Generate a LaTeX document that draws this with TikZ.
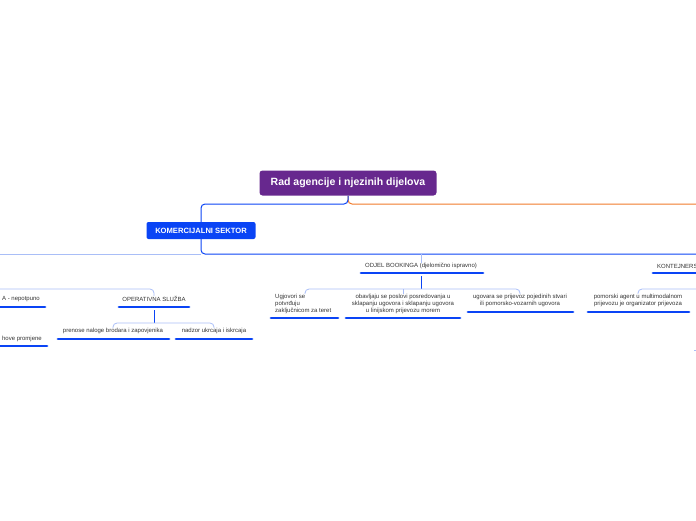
\documentclass[tikz,border=0pt]{standalone}
\usepackage{fontspec}
\setmainfont{Liberation Sans}
\usetikzlibrary{positioning}
\definecolor{agblue}{HTML}{0A44F5}
\definecolor{agpurple}{HTML}{67288E}
\definecolor{aglight}{HTML}{A9BEF7}
\definecolor{agorange}{HTML}{F07A2A}
\tikzset{
  rootbox/.style={fill=agpurple, rounded corners=3pt, text=white, font=\bfseries\fontsize{10.5}{12}\selectfont, minimum width=177pt, minimum height=25pt, inner sep=0pt},
  sectorbox/.style={fill=agblue, rounded corners=2pt, text=white, font=\bfseries\fontsize{7.6}{9}\selectfont, minimum width=109pt, minimum height=17pt, inner sep=0pt},
  leaf/.style={font=\fontsize{6}{7.2}\selectfont, text=black!80, inner sep=0pt, align=center},
  uline/.style={agblue, line width=2.8pt, line cap=round},
  link/.style={agblue, line width=1pt, rounded corners=4pt},
  thin link/.style={aglight, line width=0.8pt, rounded corners=4pt}
}
\begin{document}
\begin{tikzpicture}[x=1pt,y=-1pt]
\useasboundingbox (0,0) rectangle (696,520);

% root and sector
\node[rootbox] (root) at (348,183) {Rad agencije i njezinih dijelova};
\node[sectorbox] (kom) at (201,230.5) {KOMERCIJALNI SEKTOR};
\draw[agorange, line width=1pt, rounded corners=4pt] (root.south) -- (348,204) -- (700,204);
\draw[link] (root.south) -- (348,204) -- (201,204) -- (kom.north);
\draw[link] (kom.south) -- (201,254) -- (700,254);
\draw[thin link] (201,254) -- (-5,254);

% departments
\node[leaf] (book) at (421,266) {ODJEL BOOKINGA (djelomično ispravno)};
\node[leaf, anchor=west] (kont) at (657,266) {KONTEJNERSKI};
\node[leaf] (oper) at (154,299) {OPERATIVNA SLUŽBA};
\node[leaf, anchor=east] (nepot) at (40,299) {A - nepotpuno};
\node[leaf, anchor=east] (promj) at (42,339) {hove promjene};
\draw[thin link] (421,254) -- (book.north);
\draw[uline] (361,273) -- (483,273);
\draw[uline] (653,273) -- (700,273);
\draw[uline] (119,307) -- (189,307);
\draw[uline] (-5,307) -- (45,307);
\draw[uline] (-5,346) -- (47,346);
\draw[thin link] (-5,289) -- (154,289) -- (oper.north);

% booking children
\node[leaf, align=left, anchor=north west] (ugj) at (275,294) {Ugjovori se\\potvrđuju\\zaključnicom za teret};
\node[leaf, anchor=north] (obav) at (403,294) {obavljaju se poslovi posredovanja u\\sklapanju ugovora i sklapanju ugovora\\u linijskom prijevozu morem};
\node[leaf, anchor=north] (ugov) at (520,294) {ugovara se prijevoz pojedinih stvari\\ili pomorsko-vozarnih ugovora};
\draw[link] (421,276) -- (421,289);
\draw[thin link] (305,294) -- (305,289) -- (520,289) -- (ugov.north);
\draw[thin link] (403,289) -- (obav.north);
\draw[uline] (271,318) -- (338,318);
\draw[uline] (346,318) -- (460,318);
\draw[uline] (468,312) -- (573,312);

% container child
\node[leaf, anchor=north] (pom) at (638,294) {pomorski agent u multimodalnom\\prijevozu je organizator prijevoza};
\draw[thin link] (pom.north) -- (638,289) -- (700,289);
\draw[uline] (588,312) -- (689,312);
\draw[aglight, line width=0.8pt] (694,350) -- (700,350);

% operativna children
\node[leaf] (nalog) at (113,331) {prenose naloge brodara i zapovjenika};
\node[leaf] (nadz) at (214,331) {nadzor ukrcaja i iskrcaja};
\draw[link] (154,310) -- (154,323);
\draw[thin link] (nalog.north) -- (113,323) -- (214,323) -- (nadz.north);
\draw[uline] (58,339) -- (169,339);
\draw[uline] (176,339) -- (252,339);
\end{tikzpicture}
\end{document}
